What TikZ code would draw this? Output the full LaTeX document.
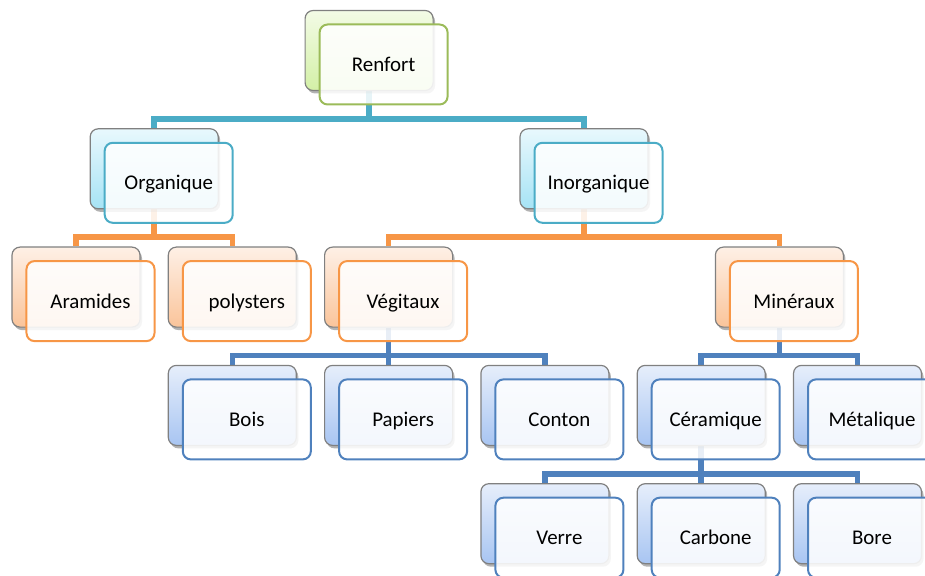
\documentclass[tikz,border=0pt]{standalone}
\usepackage{fontspec}
\setmainfont{Carlito}
\usetikzlibrary{shadows}
\definecolor{gtop}{HTML}{F3FBE6}\definecolor{gbot}{HTML}{D3F0A6}\definecolor{gline}{HTML}{9BBB59}
\definecolor{ctop}{HTML}{E8F8FD}\definecolor{cbot}{HTML}{A6E3F5}\definecolor{cline}{HTML}{4BACC6}
\definecolor{otop}{HTML}{FEF0E6}\definecolor{obot}{HTML}{FAC49A}\definecolor{oline}{HTML}{F79646}
\definecolor{btop}{HTML}{E6EEFB}\definecolor{bbot}{HTML}{A8C5F2}\definecolor{bline}{HTML}{4F81BD}
\pgfdeclarelayer{background}
\pgfsetlayers{background,main}
\tikzset{
  bk/.style={draw=black!50, line width=1.2bp, rounded corners=8bp,
    minimum width=128bp, minimum height=80bp, inner sep=0pt,
    top color=#1top, bottom color=#1bot,
    drop shadow={shadow xshift=2bp, shadow yshift=-3bp, opacity=0.3, fill=black}},
  fr/.style={draw=#1line, line width=2bp, rounded corners=8bp,
    minimum width=128bp, minimum height=80bp, inner sep=0pt,
    fill=white, fill opacity=0.87, text opacity=1,
    text height=16bp, text depth=2bp,
    font=\fontsize{21}{25}\selectfont},
  cc/.style={draw=#1line, line width=5.5bp, line join=miter, line cap=butt},
}
\newcommand\pairbox[5]{%
  \node[bk=#4] (#1B) at (#2,#3) {};
  \node[fr=#4] (#1) at ([xshift=14.5bp,yshift=-14bp]#1B.center) {#5};}
\begin{document}
\begin{tikzpicture}[x=1bp,y=-1bp]
\useasboundingbox (0,0) rectangle (925,576);
\clip (0,0) rectangle (925,576);
% row 0
\pairbox{ren}{369.1}{50.5}{g}{Renfort}
% row 1
\pairbox{org}{154.2}{168.8}{c}{Organique}
\pairbox{ino}{584.0}{168.8}{c}{Inorganique}
% row 2
\pairbox{ara}{76.0}{287.1}{o}{Aramides}
\pairbox{pol}{232.3}{287.1}{o}{polysters}
\pairbox{veg}{388.6}{287.1}{o}{Végitaux}
\pairbox{min}{779.4}{287.1}{o}{Minéraux}
% row 3
\pairbox{boi}{232.3}{405.4}{b}{Bois}
\pairbox{pap}{388.6}{405.4}{b}{Papiers}
\pairbox{con}{544.9}{405.4}{b}{Conton}
\pairbox{cer}{701.2}{405.4}{b}{Céramique}
\pairbox{met}{857.5}{405.4}{b}{Métalique}
% row 4
\pairbox{ver}{544.9}{523.7}{b}{Verre}
\pairbox{car}{701.2}{523.7}{b}{Carbone}
\pairbox{bor}{857.5}{523.7}{b}{Bore}
% connectors
\begin{pgfonlayer}{background}
\draw[cc=c] (renB.south) -- ++(0,27.8) -| (orgB.north);
\draw[cc=c] (renB.south) -- ++(0,27.8) -| (inoB.north);
\draw[cc=o] (orgB.south) -- ++(0,27.8) -| (araB.north);
\draw[cc=o] (orgB.south) -- ++(0,27.8) -| (polB.north);
\draw[cc=o] (inoB.south) -- ++(0,27.8) -| (vegB.north);
\draw[cc=o] (inoB.south) -- ++(0,27.8) -| (minB.north);
\draw[cc=b] (vegB.south) -- ++(0,27.8) -| (boiB.north);
\draw[cc=b] (vegB.south) -- ++(0,27.8) -| (papB.north);
\draw[cc=b] (vegB.south) -- ++(0,27.8) -| (conB.north);
\draw[cc=b] (minB.south) -- ++(0,27.8) -| (cerB.north);
\draw[cc=b] (minB.south) -- ++(0,27.8) -| (metB.north);
\draw[cc=b] (cerB.south) -- ++(0,27.8) -| (verB.north);
\draw[cc=b] (cerB.south) -- ++(0,27.8) -| (carB.north);
\draw[cc=b] (cerB.south) -- ++(0,27.8) -| (borB.north);
\end{pgfonlayer}
\end{tikzpicture}
\end{document}
